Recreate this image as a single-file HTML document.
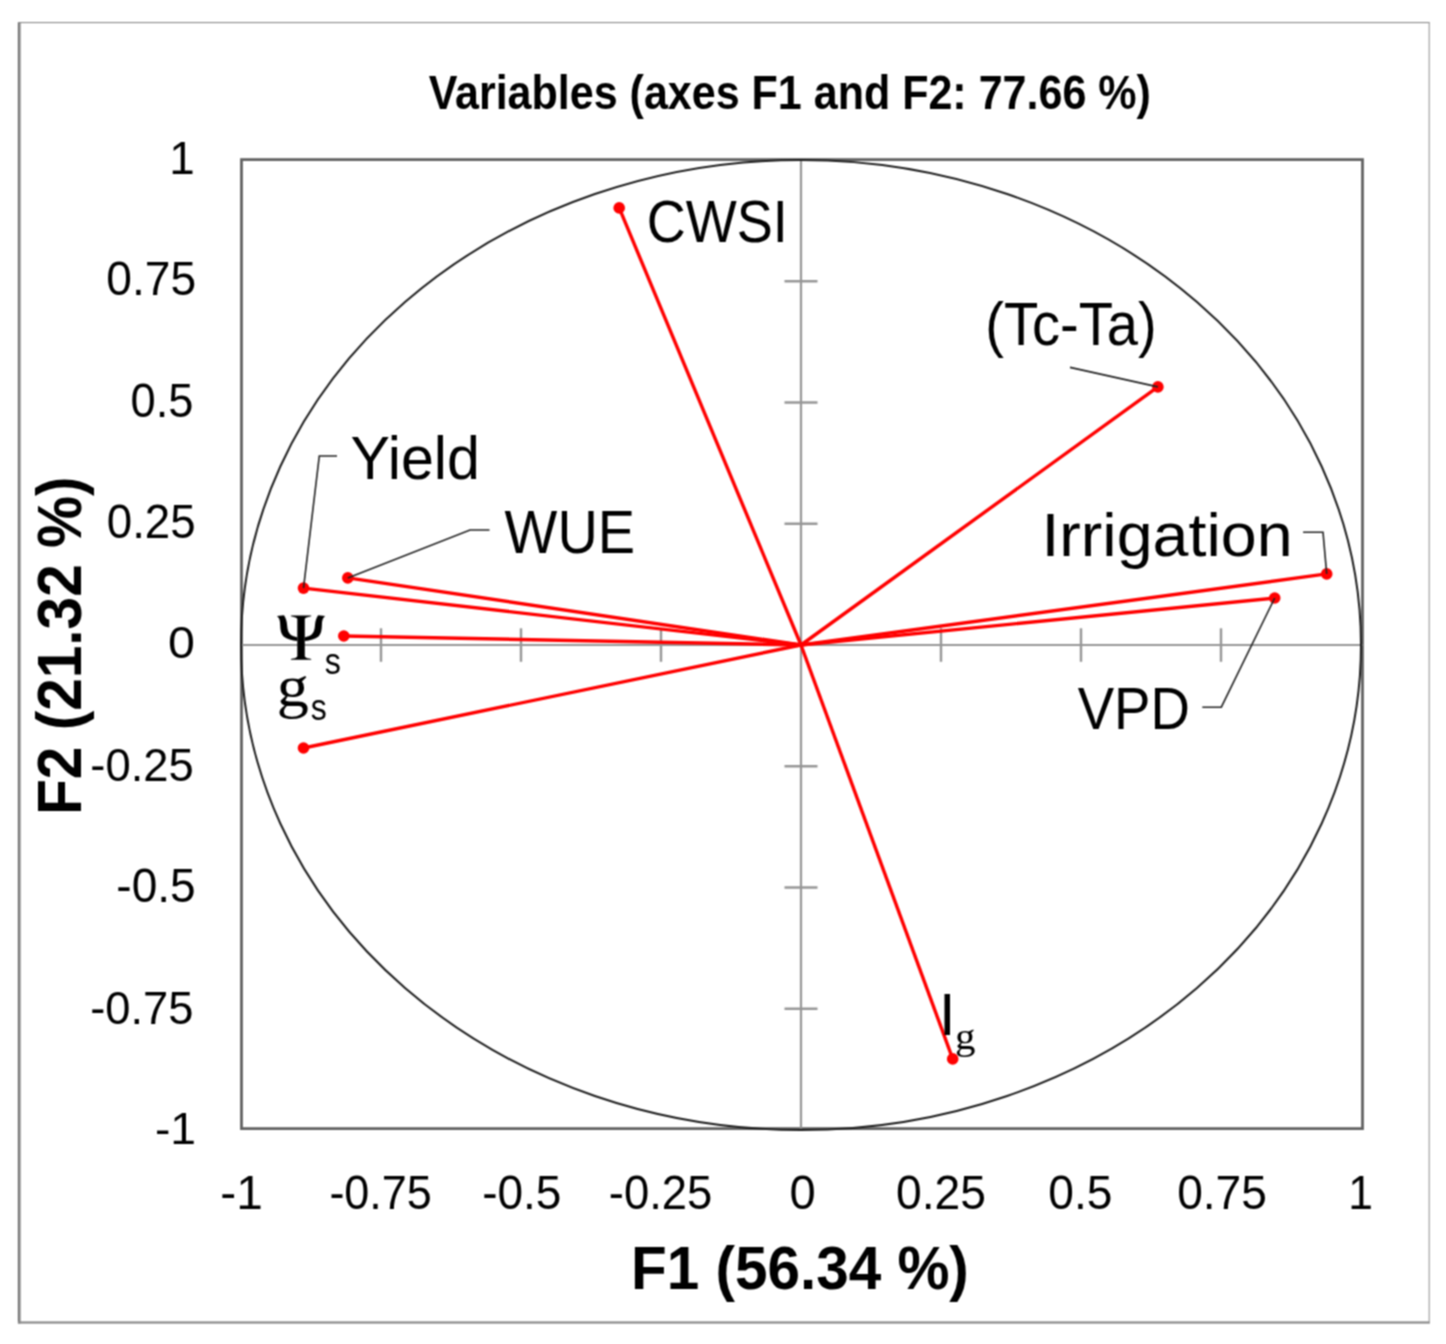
<!DOCTYPE html><html><head><meta charset="utf-8"><style>html,body{margin:0;padding:0;background:#fff;}svg{display:block;}</style></head><body>
<div id="w">
<svg width="1446" height="1344" viewBox="0 0 1446 1344">
<defs><filter id="bl" x="0" y="0" width="1446" height="1344" filterUnits="userSpaceOnUse" color-interpolation-filters="sRGB"><feConvolveMatrix order="3" kernelMatrix="1 2 1 2 4 2 1 2 1" divisor="16" edgeMode="duplicate"/></filter></defs><g filter="url(#bl)">
<rect width="1446" height="1344" fill="#fff"/>
<rect x="19" y="22" width="2" height="1301.5" fill="#a6a6a6"/>
<rect x="17.9" y="22" width="1.2" height="1301.5" fill="#5e5e5e"/>
<rect x="18" y="22" width="1411.5" height="1.1" fill="#8a8a8a"/>
<rect x="1428.6" y="22" width="1.2" height="1301.5" fill="#a0a0a0"/>
<rect x="18" y="1321.4" width="1411.5" height="2.2" fill="#8a8a8a"/>
<text transform="matrix(0.9104,0,0,1,428.68,109.10)" font-family='"Liberation Sans", sans-serif' font-weight="bold" font-size="47.27" fill="#000" >Variables (axes F1 and F2: 77.66 %)</text>
<rect x="241.5" y="159.6" width="1121" height="969" fill="none" stroke="#626262" stroke-width="2.8"/>
<line x1="241.5" y1="645" x2="1362.5" y2="645" stroke="#969696" stroke-width="2.2"/>
<line x1="801" y1="159.6" x2="801" y2="1128.6" stroke="#969696" stroke-width="2.2"/>
<line x1="381" y1="628.3" x2="381" y2="661.8" stroke="#969696" stroke-width="2.4"/>
<line x1="784.5" y1="1008.75" x2="817.5" y2="1008.75" stroke="#969696" stroke-width="2.4"/>
<line x1="521" y1="628.3" x2="521" y2="661.8" stroke="#969696" stroke-width="2.4"/>
<line x1="784.5" y1="887.5" x2="817.5" y2="887.5" stroke="#969696" stroke-width="2.4"/>
<line x1="661" y1="628.3" x2="661" y2="661.8" stroke="#969696" stroke-width="2.4"/>
<line x1="784.5" y1="766.25" x2="817.5" y2="766.25" stroke="#969696" stroke-width="2.4"/>
<line x1="941" y1="628.3" x2="941" y2="661.8" stroke="#969696" stroke-width="2.4"/>
<line x1="784.5" y1="523.75" x2="817.5" y2="523.75" stroke="#969696" stroke-width="2.4"/>
<line x1="1081" y1="628.3" x2="1081" y2="661.8" stroke="#969696" stroke-width="2.4"/>
<line x1="784.5" y1="402.5" x2="817.5" y2="402.5" stroke="#969696" stroke-width="2.4"/>
<line x1="1221" y1="628.3" x2="1221" y2="661.8" stroke="#969696" stroke-width="2.4"/>
<line x1="784.5" y1="281.25" x2="817.5" y2="281.25" stroke="#969696" stroke-width="2.4"/>
<ellipse cx="801" cy="645" rx="560" ry="485" fill="none" stroke="#1e1e1e" stroke-width="2"/>
<line x1="801" y1="645" x2="619.2" y2="207.9" stroke="#ff0000" stroke-width="3.4"/>
<line x1="801" y1="645" x2="1157.9" y2="386.9" stroke="#ff0000" stroke-width="3.4"/>
<line x1="801" y1="645" x2="1326.7" y2="573.9" stroke="#ff0000" stroke-width="3.4"/>
<line x1="801" y1="645" x2="1274.7" y2="598.0" stroke="#ff0000" stroke-width="3.4"/>
<line x1="801" y1="645" x2="303.5" y2="588.1" stroke="#ff0000" stroke-width="3.4"/>
<line x1="801" y1="645" x2="347.8" y2="577.9" stroke="#ff0000" stroke-width="3.4"/>
<line x1="801" y1="645" x2="343.8" y2="636.0" stroke="#ff0000" stroke-width="3.4"/>
<line x1="801" y1="645" x2="303.5" y2="748.0" stroke="#ff0000" stroke-width="3.4"/>
<line x1="801" y1="645" x2="952.7" y2="1058.9" stroke="#ff0000" stroke-width="3.4"/>
<text transform="matrix(0.9913,0,0,1,169.27,173.75)" font-family='"Liberation Sans", sans-serif' font-weight="normal" font-size="46.18" fill="#000" >1</text>
<text transform="matrix(0.9706,0,0,1,106.25,294.60)" font-family='"Liberation Sans", sans-serif' font-weight="normal" font-size="47.56" fill="#000" >0.75</text>
<text transform="matrix(0.9488,0,0,1,130.59,417.30)" font-family='"Liberation Sans", sans-serif' font-weight="normal" font-size="47.71" fill="#000" >0.5</text>
<text transform="matrix(0.9546,0,0,1,106.77,537.90)" font-family='"Liberation Sans", sans-serif' font-weight="normal" font-size="47.85" fill="#000" >0.25</text>
<text transform="matrix(1.0729,0,0,1,168.06,658.10)" font-family='"Liberation Sans", sans-serif' font-weight="normal" font-size="45.09" fill="#000" >0</text>
<text transform="matrix(0.9905,0,0,1,90.36,780.50)" font-family='"Liberation Sans", sans-serif' font-weight="normal" font-size="45.82" fill="#000" >-0.25</text>
<text transform="matrix(0.9651,0,0,1,116.33,901.80)" font-family='"Liberation Sans", sans-serif' font-weight="normal" font-size="47.71" fill="#000" >-0.5</text>
<text transform="matrix(0.9730,0,0,1,90.26,1023.70)" font-family='"Liberation Sans", sans-serif' font-weight="normal" font-size="46.55" fill="#000" >-0.75</text>
<text transform="matrix(1.0573,0,0,1,154.92,1143.50)" font-family='"Liberation Sans", sans-serif' font-weight="normal" font-size="43.78" fill="#000" >-1</text>
<text transform="matrix(1.0080,0,0,1,220.35,1208.80)" font-family='"Liberation Sans", sans-serif' font-weight="normal" font-size="47.42" fill="#000" >-1</text>
<text transform="matrix(0.9484,0,0,1,329.38,1208.80)" font-family='"Liberation Sans", sans-serif' font-weight="normal" font-size="47.42" fill="#000" >-0.75</text>
<text transform="matrix(0.9711,0,0,1,482.13,1208.80)" font-family='"Liberation Sans", sans-serif' font-weight="normal" font-size="47.42" fill="#000" >-0.5</text>
<text transform="matrix(0.9590,0,0,1,608.75,1208.80)" font-family='"Liberation Sans", sans-serif' font-weight="normal" font-size="47.42" fill="#000" >-0.25</text>
<text transform="matrix(0.9937,0,0,1,789.62,1208.80)" font-family='"Liberation Sans", sans-serif' font-weight="normal" font-size="47.42" fill="#000" >0</text>
<text transform="matrix(0.9759,0,0,1,895.95,1208.80)" font-family='"Liberation Sans", sans-serif' font-weight="normal" font-size="47.42" fill="#000" >0.25</text>
<text transform="matrix(0.9740,0,0,1,1048.35,1208.80)" font-family='"Liberation Sans", sans-serif' font-weight="normal" font-size="47.42" fill="#000" >0.5</text>
<text transform="matrix(0.9725,0,0,1,1177.16,1208.80)" font-family='"Liberation Sans", sans-serif' font-weight="normal" font-size="47.42" fill="#000" >0.75</text>
<text transform="matrix(0.9362,0,0,1,1348.37,1208.80)" font-family='"Liberation Sans", sans-serif' font-weight="normal" font-size="47.42" fill="#000" >1</text>
<text transform="matrix(0.9615,0,0,1,631.01,1288.70)" font-family='"Liberation Sans", sans-serif' font-weight="bold" font-size="60.80" fill="#000" >F1 (56.34 %)</text>
<text transform="matrix(0,-0.9432,1,0,80.60,814.95)" font-family='"Liberation Sans", sans-serif' font-weight="bold" font-size="62.11" fill="#000">F2 (21.32 %)</text>
<text transform="matrix(0.9014,0,0,1,646.70,242.00)" font-family='"Liberation Sans", sans-serif' font-weight="normal" font-size="59.93" fill="#000" >CWSI</text>
<text transform="matrix(0.9299,0,0,1,985.19,344.60)" font-family='"Liberation Sans", sans-serif' font-weight="normal" font-size="60.36" fill="#000" >(Tc-Ta)</text>
<text transform="matrix(1.0592,0,0,1,1041.43,555.80)" font-family='"Liberation Sans", sans-serif' font-weight="normal" font-size="60.95" fill="#000" >Irrigation</text>
<text transform="matrix(0.9083,0,0,1,1077.63,729.20)" font-family='"Liberation Sans", sans-serif' font-weight="normal" font-size="60.07" fill="#000" >VPD</text>
<text transform="matrix(0.9712,0,0,1,350.47,479.30)" font-family='"Liberation Sans", sans-serif' font-weight="normal" font-size="60.95" fill="#000" >Yield</text>
<text transform="matrix(0.9155,0,0,1,504.62,553.10)" font-family='"Liberation Sans", sans-serif' font-weight="normal" font-size="61.09" fill="#000" >WUE</text>
<path d="M277.00,616.00 L284.00,615.30 C285.60,617.50 286.80,621.00 287.10,625.00 C287.50,631.00 289.00,634.00 292.00,635.60 C294.00,636.60 295.50,637.00 297.30,637.20 L297.30,641.00 C292.00,640.60 287.00,639.00 283.60,636.50 C281.00,634.00 280.30,630.00 280.20,625.00 C280.10,621.00 279.60,618.00 277.00,616.00 Z" fill="#000"/>
<path d="M325.10,616.00 L318.10,615.30 C316.50,617.50 315.30,621.00 315.00,625.00 C314.60,631.00 313.10,634.00 310.10,635.60 C308.10,636.60 306.60,637.00 304.80,637.20 L304.80,641.00 C310.10,640.60 315.10,639.00 318.50,636.50 C321.10,634.00 321.80,630.00 321.90,625.00 C322.00,621.00 322.50,618.00 325.10,616.00 Z" fill="#000"/>
<path d="M297.3,617 L304.8,617 L304.8,658 L297.3,658 Z" fill="#000"/>
<path d="M290.9,615.4 L311.2,615.4 L311.2,616.3 C308.5,616.8 306,617.3 304.8,618.8 L297.3,618.8 C296.1,617.3 293.6,616.8 290.9,616.3 Z" fill="#000"/>
<path d="M290.9,659.8 L311.2,659.8 L311.2,658.9 C308.5,658.4 306,657.9 304.8,656.4 L297.3,656.4 C296.1,657.9 293.6,658.4 290.9,658.9 Z" fill="#000"/>
<text transform="matrix(0.8779,0,0,1,324.71,673.93)" font-family='"Liberation Sans", sans-serif' font-weight="normal" font-size="36.71" fill="#000">s</text>
<text transform="matrix(1.0917,0,0,1,276.67,705.85)" font-family='"Liberation Serif", serif' font-weight="normal" font-size="58.83" fill="#000">g</text>
<text transform="matrix(0.8716,0,0,1,310.72,719.53)" font-family='"Liberation Sans", sans-serif' font-weight="normal" font-size="36.71" fill="#000">s</text>
<text transform="matrix(0.9995,0,0,1,939.10,1034.70)" font-family='"Liberation Sans", sans-serif' font-weight="normal" font-size="59.49" fill="#000">I</text>
<text transform="matrix(1.0518,0,0,1,955.06,1049.44)" font-family='"Liberation Serif", serif' font-weight="normal" font-size="38.90" fill="#000">g</text>
<circle cx="619.2" cy="207.9" r="5.8" fill="#ff0000"/>
<circle cx="1157.9" cy="386.9" r="5.8" fill="#ff0000"/>
<circle cx="1326.7" cy="573.9" r="5.8" fill="#ff0000"/>
<circle cx="1274.7" cy="598.0" r="5.8" fill="#ff0000"/>
<circle cx="303.5" cy="588.1" r="5.8" fill="#ff0000"/>
<circle cx="347.8" cy="577.9" r="5.8" fill="#ff0000"/>
<circle cx="343.8" cy="636.0" r="5.8" fill="#ff0000"/>
<circle cx="303.5" cy="748.0" r="5.8" fill="#ff0000"/>
<circle cx="952.7" cy="1058.9" r="5.8" fill="#ff0000"/>
<path d="M1070,367.4 L1157.9,386.9" fill="none" stroke="#222" stroke-width="1.6"/>
<path d="M1303.1,532.3 L1323,532.3 L1326.7,573.9" fill="none" stroke="#222" stroke-width="1.6"/>
<path d="M1202.3,707.2 L1221.3,707.2 L1274.7,598.0" fill="none" stroke="#222" stroke-width="1.6"/>
<path d="M337,456 L319.3,456 L303.5,588.1" fill="none" stroke="#222" stroke-width="1.6"/>
<path d="M489.5,530 L470,530 L347.8,577.9" fill="none" stroke="#222" stroke-width="1.6"/>
</g></svg></div></body></html>
